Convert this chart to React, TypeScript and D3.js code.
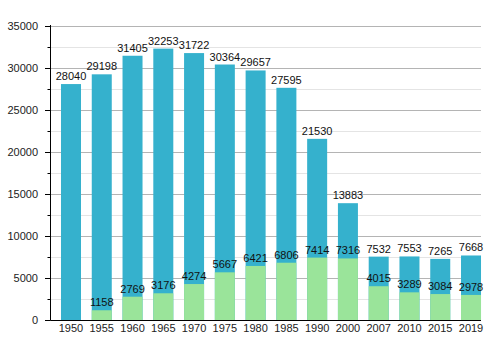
import { useEffect, useRef } from "react";
import * as d3 from "d3";

const years = ["1950", "1955", "1960", "1965", "1970", "1975", "1980", "1985", "1990", "2000", "2007", "2010", "2015", "2019"];
const totals = [28040, 29198, 31405, 32253, 31722, 30364, 29657, 27595, 21530, 13883, 7532, 7553, 7265, 7668];
const greens = [0, 1158, 2769, 3176, 4274, 5667, 6421, 6806, 7414, 7316, 4015, 3289, 3084, 2978];
const yTicks = [0, 5000, 10000, 15000, 20000, 25000, 30000, 35000];
const yMinor = [2500, 7500, 12500, 17500, 22500, 27500, 32500];

const W = 500;
const H = 350;

export default function App() {
  const svgRef = useRef<SVGSVGElement>(null);

  useEffect(() => {
    const svg = d3.select(svgRef.current);
    svg.selectAll("*").remove();

    const left = 50.5;
    const right = 481;
    const y = d3.scaleLinear().domain([0, 35000]).range([320, 25.5]);
    const x = d3
      .scaleBand()
      .domain(years)
      .range([55.6, 486.4])
      .paddingInner(0.35)
      .paddingOuter(0.175);

    const g = svg.append("g").attr("font-family", "Liberation Sans, Arial, sans-serif");

    // grid
    g.selectAll("line.minor")
      .data(yMinor)
      .join("line")
      .attr("x1", left)
      .attr("x2", right)
      .attr("y1", (d) => Math.round(y(d)) + 0.5)
      .attr("y2", (d) => Math.round(y(d)) + 0.5)
      .attr("stroke", "#e4e4e4");
    g.selectAll("line.major")
      .data(yTicks.slice(1))
      .join("line")
      .attr("x1", left)
      .attr("x2", right)
      .attr("y1", (d) => Math.round(y(d)) + 0.5)
      .attr("y2", (d) => Math.round(y(d)) + 0.5)
      .attr("stroke", "#b4b4b4");

    // bars
    g.selectAll("rect.total")
      .data(years)
      .join("rect")
      .attr("x", (d) => x(d)!)
      .attr("width", x.bandwidth())
      .attr("y", (d, i) => y(totals[i]))
      .attr("height", (d, i) => y(0) - y(totals[i]))
      .attr("fill", "#35b1cd");
    g.selectAll("rect.green")
      .data(years)
      .join("rect")
      .attr("x", (d) => x(d)!)
      .attr("width", x.bandwidth())
      .attr("y", (d, i) => y(greens[i]))
      .attr("height", (d, i) => y(0) - y(greens[i]))
      .attr("fill", "#9ae49a");

    // axes
    g.append("line")
      .attr("x1", left).attr("x2", left)
      .attr("y1", 25).attr("y2", 320.5)
      .attr("stroke", "#000");
    g.append("line")
      .attr("x1", left).attr("x2", right)
      .attr("y1", 320.5).attr("y2", 320.5)
      .attr("stroke", "#000");
    g.selectAll("line.tick")
      .data(yTicks)
      .join("line")
      .attr("x1", 45).attr("x2", left)
      .attr("y1", (d) => Math.round(y(d)) + 0.5)
      .attr("y2", (d) => Math.round(y(d)) + 0.5)
      .attr("stroke", "#000");
    g.selectAll("line.mtick")
      .data(yMinor)
      .join("line")
      .attr("x1", 47.5).attr("x2", left)
      .attr("y1", (d) => Math.round(y(d)) + 0.5)
      .attr("y2", (d) => Math.round(y(d)) + 0.5)
      .attr("stroke", "#000");

    g.selectAll("text.ytick")
      .data(yTicks)
      .join("text")
      .attr("x", 38)
      .attr("y", (d) => y(d) + 4)
      .attr("text-anchor", "end")
      .attr("font-size", 11)
      .attr("fill", "#222")
      .text((d) => d);

    g.selectAll("text.xtick")
      .data(years)
      .join("text")
      .attr("x", (d) => x(d)! + x.bandwidth() / 2)
      .attr("y", 332)
      .attr("text-anchor", "middle")
      .attr("font-size", 11)
      .attr("fill", "#222")
      .text((d) => d);

    // labels
    g.selectAll("text.tl")
      .data(years)
      .join("text")
      .attr("x", (d) => x(d)! + x.bandwidth() / 2)
      .attr("y", (d, i) => y(totals[i]) - 4)
      .attr("text-anchor", "middle")
      .attr("font-size", 11)
      .attr("fill", "#111")
      .text((d, i) => totals[i]);
    g.selectAll("text.gl")
      .data(years.filter((d, i) => greens[i] > 0))
      .join("text")
      .attr("x", (d) => x(d)! + x.bandwidth() / 2)
      .attr("y", (d) => y(greens[years.indexOf(d)]) - 4)
      .attr("text-anchor", "middle")
      .attr("font-size", 11)
      .attr("fill", "#111")
      .text((d) => greens[years.indexOf(d)]);
  }, []);

  return (
    <svg
      ref={svgRef}
      width={W}
      height={H}
      style={{ position: "absolute", left: 0, top: 0, background: "#fff" }}
    />
  );
}
